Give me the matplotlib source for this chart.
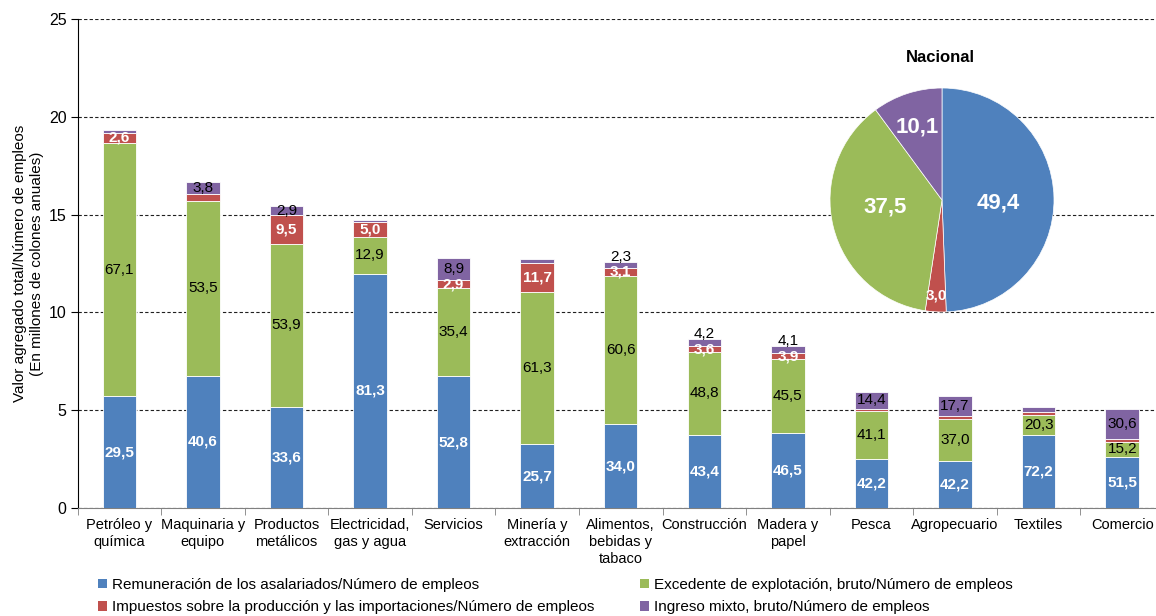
import matplotlib
matplotlib.use("Agg")
import matplotlib.pyplot as plt
import numpy as np
from matplotlib.patches import Patch

plt.rcParams['font.family'] = ['Liberation Sans', 'DejaVu Sans']

categories = ["Petróleo y\nquímica", "Maquinaria y\nequipo", "Productos\nmetálicos",
              "Electricidad,\ngas y agua", "Servicios", "Minería y\nextracción",
              "Alimentos,\nbebidas y\ntabaco", "Construcción", "Madera y\npapel",
              "Pesca", "Agropecuario", "Textiles", "Comercio"]
totals = [19.33, 16.68, 15.44, 14.72, 12.77, 12.71, 12.56, 8.64, 8.27, 5.93, 5.73, 5.16, 5.08]
pct_remuneracion = [29.5, 40.6, 33.6, 81.3, 52.8, 25.7, 34.0, 43.4, 46.5, 42.2, 42.2, 72.2, 51.5]
pct_excedente = [67.1, 53.5, 53.9, 12.9, 35.4, 61.3, 60.6, 48.8, 45.5, 41.1, 37.0, 20.3, 15.2]
pct_impuestos = [2.6, 2.1, 9.5, 5.0, 2.9, 11.7, 3.1, 3.6, 3.9, 2.3, 3.1, 3.0, 2.7]
pct_mixto = [0.8, 3.8, 2.9, 0.8, 8.9, 1.3, 2.3, 4.2, 4.1, 14.4, 17.7, 4.5, 30.6]

show_remuneracion = [True] * 13
show_excedente = [True] * 13
show_impuestos = [True, False, True, True, True, True, True, True, True, False, False, False, False]
show_mixto = [False, True, True, False, True, False, True, True, True, True, True, False, True]

series_names = ["Remuneración de los asalariados/Número de empleos",
                "Excedente de explotación, bruto/Número de empleos",
                "Impuestos sobre la producción y las importaciones/Número de empleos",
                "Ingreso mixto, bruto/Número de empleos"]
colors = ["#4F81BD", "#9BBB59", "#C0504D", "#8064A2"]
label_colors = ["white", "black", "white", "black"]
label_weights = ["bold", "normal", "bold", "normal"]

pie_title = "Nacional"
pie_values = [49.4, 3.0, 37.5, 10.1]  # remuneración, impuestos, excedente, mixto
pie_colors = ["#4F81BD", "#C0504D", "#9BBB59", "#8064A2"]

ylabel = "Valor agregado total/Número de empleos\n(En millones de colones anuales)"

def fmt(v):
    return f"{v:.1f}".replace(".", ",")

fig = plt.figure(figsize=(11.56, 6.16), dpi=100)
ax = fig.add_axes([77.5 / 1156, (616 - 508) / 616, (1164 - 77.5) / 1156, (508 - 19) / 616])

x = np.arange(len(categories))
totals_a = np.array(totals)
pcts = [np.array(pct_remuneracion), np.array(pct_excedente), np.array(pct_impuestos), np.array(pct_mixto)]
shows = [show_remuneracion, show_excedente, show_impuestos, show_mixto]
bottom = np.zeros(len(categories))
for k in range(4):
    h = totals_a * pcts[k] / 100.0
    ax.bar(x, h, 0.4, bottom=bottom, color=colors[k], edgecolor="white", linewidth=0.6,
           label=series_names[k], zorder=3)
    for i in range(len(categories)):
        if shows[k][i]:
            yc = bottom[i] + h[i] / 2
            off = 0
            if k == 3 and h[i] < 0.4:
                off = 6
            ax.annotate(fmt(pcts[k][i]), (x[i], yc), xytext=(0, off), textcoords="offset points",
                        ha="center", va="center", color=label_colors[k],
                        fontweight=label_weights[k], fontsize=11, zorder=5)
    bottom = bottom + h

ax.set_xlim(-0.5, len(categories) - 0.5)
ax.set_ylim(0, 25)
ax.set_yticks([0, 5, 10, 15, 20, 25])
ax.tick_params(axis="y", labelsize=11.5, length=5, direction="out", pad=3)
ax.set_xticks(x)
ax.set_xticklabels(categories, fontsize=10.5, linespacing=1.3)
ax.tick_params(axis="x", which="major", length=0, pad=7)
ax.set_xticks(np.arange(-0.5, len(categories) + 0.5, 1), minor=True)
ax.tick_params(axis="x", which="minor", length=5, color="#808080")
ax.yaxis.grid(True, linestyle=(0, (3, 2)), color="#202020", linewidth=0.8, zorder=0)
ax.set_axisbelow(True)
for s in ["top", "right"]:
    ax.spines[s].set_visible(False)
ax.spines["left"].set_color("black")
ax.spines["bottom"].set_color("#808080")
ax.set_ylabel(ylabel, fontsize=11, labelpad=3, linespacing=1.35)

# Pie
pax = fig.add_axes([(942 - 112) / 1156, (616 - 200 - 112) / 616, 224 / 1156, 224 / 616])
wedges, _ = pax.pie(pie_values, colors=pie_colors, startangle=90, counterclock=False,
                    wedgeprops=dict(edgecolor="white", linewidth=0.5))
pax.set_xlim(-1, 1)
pax.set_ylim(-1, 1)
pax.set_aspect("equal")
pie_label_pos = [(0.5, -0.03), (-0.05, -0.85), (-0.51, -0.06), (-0.22, 0.65)]
pie_label_size = [16, 11, 16, 16]
for v, (px, py), fs in zip(pie_values, pie_label_pos, pie_label_size):
    pax.text(px, py, fmt(v), ha="center", va="center",
             color="white", fontweight="bold", fontsize=fs)
fig.text(940 / 1156, 1 - 57 / 616, pie_title, ha="center", va="center",
         fontweight="bold", fontsize=12)

handles = [Patch(facecolor=colors[0]), Patch(facecolor=colors[2]),
           Patch(facecolor=colors[1]), Patch(facecolor=colors[3])]
labels = [series_names[0], series_names[2], series_names[1], series_names[3]]
fig.legend(handles, labels, ncol=2, loc="upper left", bbox_to_anchor=(98 / 1156, 1 - 578 / 616),
           frameon=False, fontsize=11, handlelength=0.6, handleheight=0.6, handletextpad=0.3,
           columnspacing=3.0, labelspacing=0.55, borderaxespad=0, borderpad=0)

fig.savefig("out.png", dpi=100)
